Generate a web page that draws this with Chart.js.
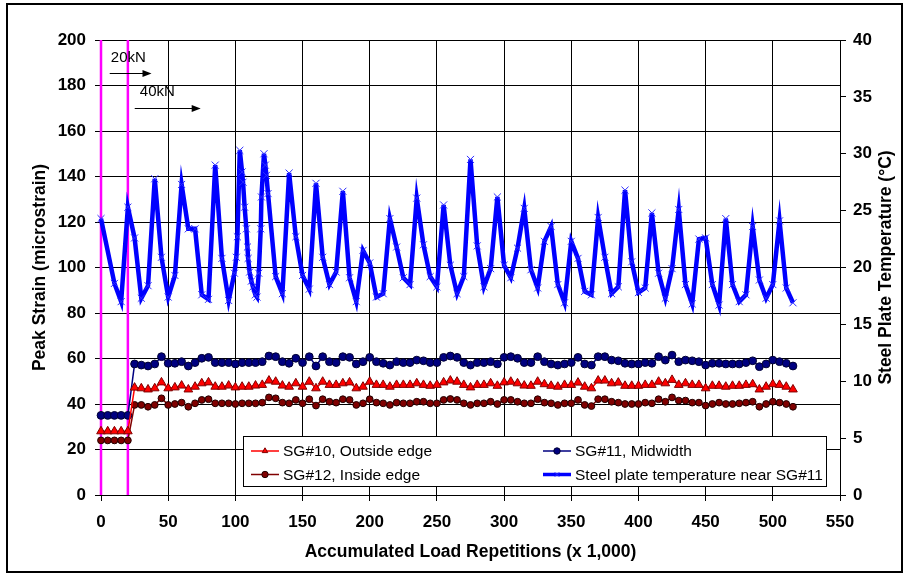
<!DOCTYPE html>
<html>
<head>
<meta charset="utf-8">
<script src="https://cdn.jsdelivr.net/npm/chart.js@4.4.1/dist/chart.umd.min.js"></script>
<style>
  html, body { margin: 0; padding: 0; background: #fff; }
  canvas { display: block; }
</style>
</head>
<body>
<canvas id="myChart" width="906" height="577"></canvas>
<script>
// x positions (thousands of repetitions) shared by the three strain gauges
const strainX = [0, 5, 10, 15, 20,
  25, 30, 35, 40, 45, 50, 55, 60, 65, 70, 75, 80, 85, 90, 95, 100, 105, 110, 115, 120,
  125, 130, 135, 140, 145, 150, 155, 160, 165, 170, 175, 180, 185, 190, 195, 200, 205, 210, 215, 220,
  225, 230, 235, 240, 245, 250, 255, 260, 265, 270, 275, 280, 285, 290, 295, 300, 305, 310, 315, 320,
  325, 330, 335, 340, 345, 350, 355, 360, 365, 370, 375, 380, 385, 390, 395, 400, 405, 410, 415, 420,
  425, 430, 435, 440, 445, 450, 455, 460, 465, 470, 475, 480, 485, 490, 495, 500, 505, 510, 515]

const sg10 = [28, 28, 28, 28, 28,
  47.2, 46.9, 46.4, 46.9, 49.5, 46.9, 47.3, 48.1, 46.4, 47.6, 49.1, 49.5, 47.6, 47.6, 48.1, 47.3,
  47.6, 47.6, 48.1, 48.4, 50.3, 49.8, 48.1, 47.6, 49.1, 47.6, 49.8, 46.9, 49.8, 48.4, 48.4, 49.1,
  49.5, 46.9, 47.6, 49.8, 48.4, 48.4, 47.6, 48.4, 48.4, 48.4, 49.1, 48.4, 48.0, 48.4, 49.5, 50.3,
  49.8, 48.4, 47.3, 48.4, 48.4, 49.1, 48.0, 49.5, 49.8, 49.1, 48.1, 48.0, 49.8, 48.7, 48.0, 47.6,
  48.4, 48.4, 49.4,
  47.6, 46.9, 50.3, 50.3, 49.1, 49.4, 48.0, 48.0, 48.0, 48.4, 48.4, 49.8, 49.1, 50.6, 48.4, 49.1,
  48.4, 48.4, 46.9, 48.0, 48.0, 47.6, 48.0, 48.0, 48.4, 48.7, 46.4, 47.6, 48.7, 48.4, 47.6, 46.4]

const sg11 = [35, 35, 35, 35, 35,
  57.6, 57.1, 56.7, 57.6, 60.8, 57.9, 57.9, 58.6, 56.7, 58.2, 60.1, 60.5, 58.2, 58.2, 58.2, 57.6,
  58.2, 58.2, 58.2, 58.6, 61.1, 60.8, 58.6, 57.9, 60.1, 58.2, 60.8, 56.7, 60.8, 58.6, 58.2, 60.8,
  60.5, 57.6, 58.6, 60.5, 58.6, 57.9, 57.1, 58.6, 58.2, 58.2, 59.3, 59.0, 58.2, 58.2, 60.5, 61.1,
  60.5, 58.2, 57.1, 58.2, 58.2, 58.6, 57.6, 60.5, 60.8, 60.1, 58.2, 58.2, 60.8, 58.6, 57.6, 57.1,
  57.6, 58.2, 60.5,
  57.6, 57.1, 60.8, 60.8, 59.3, 59.0, 57.9, 57.6, 57.6, 58.2, 57.9, 60.8, 59.3, 61.5, 58.6, 59.3,
  59.0, 58.6, 57.1, 57.9, 57.9, 57.6, 57.6, 57.6, 58.2, 59.0, 56.4, 57.6, 59.3, 58.6, 57.9, 56.7]

const sg12 = [24, 24, 24, 24, 24,
  39.6, 39.6, 38.8, 39.6, 42.5, 39.6, 40.0, 40.6, 38.8, 40.3, 41.8, 42.1, 40.3, 40.3, 40.3, 40.0,
  40.3, 40.3, 40.3, 40.6, 42.9, 42.5, 40.6, 40.3, 41.8, 40.3, 42.1, 39.3, 42.1, 41.0, 40.6, 42.1,
  41.8, 39.6, 40.3, 42.1, 40.6, 40.3, 39.6, 40.6, 40.3, 40.3, 41.0, 41.0, 40.3, 40.3, 41.8, 42.2,
  41.8, 40.3, 39.6, 40.3, 40.3, 41.0, 40.0, 41.8, 41.8, 41.0, 40.3, 40.3, 42.1, 40.6, 40.3, 39.6,
  40.3, 40.3, 41.8,
  39.6, 39.1, 42.1, 42.1, 41.0, 40.6, 40.0, 40.0, 40.0, 40.6, 40.3, 42.1, 41.0, 42.9, 41.5, 41.5,
  40.6, 40.6, 39.3, 40.0, 40.6, 40.0, 40.0, 40.3, 40.6, 41.0, 38.8, 40.0, 41.0, 40.6, 40.0, 38.8]

// steel plate temperature, its own x positions (denser readings around 100-125)
const tempX = [0, 10, 15, 20, 25, 30, 35, 40, 45, 50, 55, 60, 65, 70, 75, 80, 85, 90, 95,
  99.3, 100.7, 101.5, 103.3, 105, 105.7, 106.9, 108.2, 109, 109.5, 110.6, 111.9, 113.1, 114.9,
  116.1, 117.4, 118.9, 119.4, 121.3, 122.3, 123.1, 124.3,
  130, 135, 140, 145, 150, 155, 160, 165, 170, 175, 180, 185, 190, 195, 200, 205, 210, 215,
  220, 225, 230, 235, 240, 245, 250, 255, 260, 265, 270, 275, 280, 285, 290, 295, 300, 305,
  310, 315, 320, 325, 330, 335, 340, 345, 350, 355, 360, 365, 370, 375, 380, 385, 390, 395,
  400, 405, 410, 415, 420, 425, 430, 435, 440, 445, 450, 455, 460, 465, 470, 475, 480, 485,
  490, 495, 500, 505, 510, 515]

const tempC = [24.3, 18.6, 17.0, 25.3, 22.6, 17.3, 18.4, 27.8, 20.9, 17.4, 19.3, 27.3, 23.4, 23.4, 17.6, 17.2, 29.0, 20.8, 17.1,
  19.5, 20.9, 22.7, 30.3, 28.4, 27.5, 25.3, 23.4, 21.8, 20.8, 19.6, 18.8, 18.3, 17.6,
  17.4, 19.5, 23.4, 26.2, 30.0, 29.0, 28.1, 26.5,
  19.2, 17.7, 28.3, 22.7, 19.3, 18.1, 27.4, 20.9, 18.5, 19.6, 26.7, 19.1, 17.0, 21.5, 20.4, 17.4, 17.7, 24.3,
  21.8, 19.1, 18.5, 26.1, 22.0, 19.2, 18.3, 25.5, 20.2, 17.7, 19.2, 29.5, 21.9, 18.3, 19.9, 26.2, 20.2, 19.1,
  21.7, 25.2, 19.8, 18.2, 22.3, 23.6, 18.5, 16.9, 22.3, 20.8, 17.9, 17.6, 24.4, 20.9, 17.7, 18.3, 26.8, 20.5,
  17.8, 18.2, 24.8, 19.5, 17.3, 19.9, 25.1, 18.5, 16.8, 22.5, 22.6, 18.5, 16.7, 24.3, 18.5, 17.0, 17.6, 23.6,
  18.9, 17.3, 18.5, 24.1, 18.2, 16.9]

// load changes (start of 20kN and 40kN loading)
const loadChangeX = [0, 20]
const strainRange = [0, 200]

const FONT = '"Liberation Sans", Arial, sans-serif'
Chart.defaults.font.family = FONT
Chart.defaults.color = '#000'

function pairs(xs, ys) {
    return xs.map((x, i) => ({ x: x, y: ys[i] }))
}

// arrows + labels for the load levels, in data units
const loadNotes = [
    { text: '20kN', tx: 7.3, ty: 192, x0: 6.5, x1: 37.6, ay: 185.5 },
    { text: '40kN', tx: 28.9, ty: 177.2, x0: 25.1, x1: 74.2, ay: 170.3 },
]

const notesPlugin = {
    id: 'notes',
    afterDatasetsDraw(chart) {
        const c = chart.ctx
        const sx = chart.scales.x
        const sy = chart.scales.y
        c.save()
        c.fillStyle = '#000'
        c.strokeStyle = '#000'
        c.lineWidth = 1
        c.font = '15px ' + FONT
        c.textBaseline = 'middle'
        loadNotes.forEach(n => {
            c.fillText(n.text, sx.getPixelForValue(n.tx), sy.getPixelForValue(n.ty))
            const y = Math.round(sy.getPixelForValue(n.ay)) + 0.5
            const a = sx.getPixelForValue(n.x0)
            const b = sx.getPixelForValue(n.x1)
            c.beginPath()
            c.moveTo(a, y)
            c.lineTo(b - 8, y)
            c.stroke()
            c.beginPath()
            c.moveTo(b, y)
            c.lineTo(b - 9, y - 3.5)
            c.lineTo(b - 9, y + 3.5)
            c.closePath()
            c.fill()
        })

        // secondary axis title, turned the same way as the left one
        const s1 = chart.scales.y1
        c.font = 'bold 17.5px ' + FONT
        c.textAlign = 'center'
        c.translate(886, (s1.top + s1.bottom) / 2)
        c.rotate(-Math.PI / 2)
        c.fillText('Steel Plate Temperature (°C)', 0, 0)
        c.restore()
    }
}

// boxed legend sitting inside the plot, like the original
const boxLegend = {
    id: 'boxLegend',
    afterDraw(chart) {
        const c = chart.ctx
        const ds = chart.data.datasets
        c.save()
        c.fillStyle = '#fff'
        c.fillRect(243.5, 436.5, 583, 50)
        c.strokeStyle = '#000'
        c.lineWidth = 1
        c.strokeRect(243.5, 436.5, 583, 50)

        const cols = [251, 543]
        const rows = [451, 474.5]
        const order = [0, 1, 2, 3]
        order.forEach((k, i) => {
            const d = ds[k]
            const x = cols[i % 2]
            const y = rows[Math.floor(i / 2)]
            c.strokeStyle = d.borderColor
            c.lineWidth = Math.min(d.borderWidth, 3.5)
            c.beginPath()
            c.moveTo(x, y)
            c.lineTo(x + 28, y)
            c.stroke()
            c.fillStyle = d.pointBackgroundColor
            c.strokeStyle = d.pointBorderColor
            c.lineWidth = 1
            Chart.helpers.drawPoint(c, {
                pointStyle: d.pointStyle, radius: 3.2, rotation: 0, borderWidth: 1
            }, x + 14, y)
            c.fillStyle = '#000'
            c.font = '15.5px ' + FONT
            c.textBaseline = 'middle'
            c.fillText(d.label, x + 32, y + 1)
        })
        c.restore()
    }
}

const framePlugin = {
    id: 'frame',
    afterDraw(chart) {
        const c = chart.ctx
        c.save()
        c.strokeStyle = '#000'
        c.lineWidth = 2
        c.strokeRect(7, 4, 895, 568)
        c.restore()
    }
}

const ctx = document.getElementById('myChart').getContext('2d')

const magenta = loadChangeX.map(x => ({
    label: 'load change',
    data: strainRange.map(v => ({ x: x, y: v })),
    borderColor: '#ff00ff',
    borderWidth: 2.5,
    pointRadius: 0,
    yAxisID: 'y',
    order: 10,
    clip: false,
}))

const myChart = new Chart(ctx, {
    type: 'line',
    data: {
        datasets: [
            {
                label: 'SG#10, Outside edge',
                data: pairs(strainX, sg10),
                borderColor: '#ff0000',
                borderWidth: 1.5,
                pointStyle: 'triangle',
                pointRadius: 5,
                pointBackgroundColor: '#ff0000',
                pointBorderColor: '#800000',
                pointBorderWidth: 1,
                yAxisID: 'y',
                order: 3,
                clip: false,
            },
            {
                label: 'SG#11, Midwidth',
                data: pairs(strainX, sg11),
                borderColor: '#000080',
                borderWidth: 1.5,
                pointStyle: 'circle',
                pointRadius: 3.9,
                pointBackgroundColor: '#000080',
                pointBorderColor: '#000033',
                pointBorderWidth: 1,
                yAxisID: 'y',
                order: 3,
                clip: false,
            },
            {
                label: 'SG#12, Inside edge',
                data: pairs(strainX, sg12),
                borderColor: '#800000',
                borderWidth: 1.5,
                pointStyle: 'circle',
                pointRadius: 3.4,
                pointBackgroundColor: '#800000',
                pointBorderColor: '#200000',
                pointBorderWidth: 1,
                yAxisID: 'y',
                order: 3,
                clip: false,
            },
            {
                label: 'Steel plate temperature near SG#11',
                data: pairs(tempX, tempC),
                borderColor: '#0000ff',
                borderWidth: 4.5,
                pointStyle: 'crossRot',
                pointRadius: 5,
                pointBackgroundColor: '#2a2aff',
                pointBorderColor: '#2a2aff',
                pointBorderWidth: 1,
                yAxisID: 'y1',
                order: 1,
                clip: false,
            },
            ...magenta
        ]
    },
    options: {
        responsive: false,
        animation: false,
        layout: { padding: { top: 40, left: 0, right: 0, bottom: 0 } },
        elements: { line: { tension: 0 } },
        plugins: {
            legend: { display: false },
            tooltip: { enabled: false },
        },
        scales: {
            x: {
                type: 'linear',
                min: 0,
                max: 550,
                ticks: {
                    stepSize: 50,
                    padding: 11,
                    maxRotation: 0,
                    font: { size: 17, weight: 'bold' },
                },
                grid: { color: '#000', lineWidth: 1, tickLength: 6 },
                border: { color: '#000', width: 1 },
                title: {
                    display: true,
                    text: 'Accumulated Load Repetitions (x 1,000)',
                    font: { size: 17.5, weight: 'bold' },
                    padding: { top: 0, bottom: 14.5 },
                },
                afterFit: s => { s.height = 82 },
            },
            y: {
                position: 'left',
                min: 0,
                max: 200,
                ticks: {
                    stepSize: 20,
                    padding: 9,
                    font: { size: 17, weight: 'bold' },
                },
                grid: { color: '#000', lineWidth: 1, tickLength: 6 },
                border: { color: '#000', width: 1 },
                title: {
                    display: true,
                    text: 'Peak Strain (microstrain)',
                    font: { size: 17.5, weight: 'bold' },
                    padding: { top: 29.5, bottom: 0 },
                },
                afterFit: s => { s.width = 101 },
            },
            y1: {
                position: 'right',
                min: 0,
                max: 40,
                ticks: {
                    stepSize: 5,
                    padding: 7,
                    font: { size: 17, weight: 'bold' },
                },
                grid: { drawOnChartArea: false, color: '#000', lineWidth: 1, tickLength: 6 },
                border: { color: '#000', width: 1 },
                title: { display: false },
                afterFit: s => { s.width = 66 },
            },
        },
    },
    plugins: [notesPlugin, boxLegend, framePlugin],
})
</script>
</body>
</html>
